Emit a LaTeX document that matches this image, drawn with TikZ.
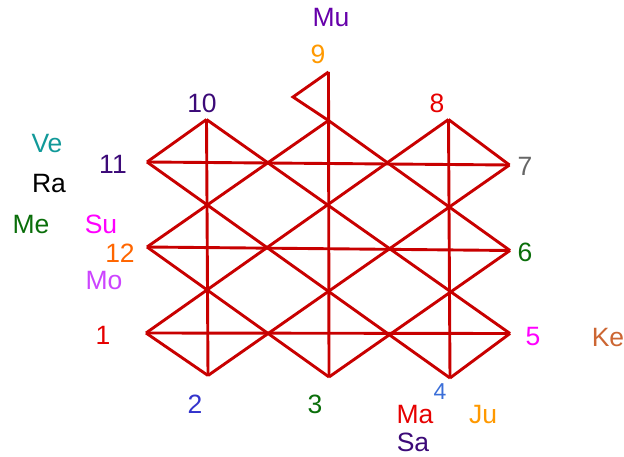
\documentclass[tikz,border=0pt]{standalone}
\usepackage{fontspec}
\setmainfont{Liberation Sans}
\usepackage{xcolor}
\usepackage{tikz}

\definecolor{linered}{RGB}{200,0,0}
\definecolor{violet}{RGB}{102,0,170}
\definecolor{amber}{RGB}{255,153,0}
\definecolor{indigo}{RGB}{60,10,120}
\definecolor{brightred}{RGB}{230,0,0}
\definecolor{tealish}{RGB}{17,153,153}
\definecolor{darkgreen}{RGB}{10,110,10}
\definecolor{pink}{RGB}{255,0,255}
\definecolor{deeporange}{RGB}{255,102,0}
\definecolor{lilac}{RGB}{204,68,255}
\definecolor{midgray}{RGB}{102,102,102}
\definecolor{rust}{RGB}{204,102,51}
\definecolor{royal}{RGB}{51,51,204}
\definecolor{skyblue}{RGB}{58,110,216}

\begin{document}
\begin{tikzpicture}[x=1pt, y=-1pt,
  chart/.style={draw=linered, line width=2.9pt, line join=miter},
  lab/.style={inner sep=0pt, font=\fontsize{26.5}{30}\selectfont}]
  \useasboundingbox (0,0) rectangle (624,457);

  %% house corners
  \coordinate (h10) at (206.5,119.5);
  \coordinate (h9) at (328.5,120.5);
  \coordinate (h8) at (448.5,119.5);
  \coordinate (h11) at (147,162);
  \coordinate (h7) at (509.5,165);
  \coordinate (h12) at (147,247);
  \coordinate (h6) at (510,250.5);
  \coordinate (h1) at (146,333);
  \coordinate (h5) at (510,333.5);
  \coordinate (h2) at (208,375.5);
  \coordinate (h3) at (329,377);
  \coordinate (h4) at (450,378);
  %% the flag above 9
  \coordinate (flagtop) at (328.5,72);
  \coordinate (flagtip) at (293,97);

  %% rows
  \draw[chart] (h11) -- (h7);
  \draw[chart] (h12) -- (h6);
  \draw[chart] (h1) -- (h5);
  %% columns
  \draw[chart] (h10) -- (h2);
  \draw[chart] (flagtop) -- (h3);
  \draw[chart] (h8) -- (h4);
  \draw[chart] (flagtop) -- (flagtip) -- (h9);
  %% falling diagonals
  \draw[chart] (h10) -- (h5);
  \draw[chart] (h9) -- (h6);
  \draw[chart] (h8) -- (h7);
  \draw[chart] (h11) -- (h4);
  \draw[chart] (h12) -- (h3);
  \draw[chart] (h1) -- (h2);
  %% rising diagonals
  \draw[chart] (h1) -- (h8);
  \draw[chart] (h12) -- (h9);
  \draw[chart] (h11) -- (h10);
  \draw[chart] (h2) -- (h7);
  \draw[chart] (h3) -- (h6);
  \draw[chart] (h4) -- (h5);

  %% house numbers
  \node[lab, amber] (n9) at (318,54) {9};
  \node[lab, indigo] (n10) at (202,103) {10};
  \node[lab, brightred] (n8) at (437,103) {8};
  \node[lab, indigo] (n11) at (113,164) {11};
  \node[lab, deeporange] (n12) at (120,253) {12};
  \node[lab, brightred] (n1) at (103,335) {1};
  \node[lab, midgray] (n7) at (525,166) {7};
  \node[lab, darkgreen] (n6) at (525,252) {6};
  \node[lab, pink] (n5) at (533,337) {5};
  \node[lab, royal] (n2) at (195,404) {2};
  \node[lab, darkgreen] (n3) at (315,404) {3};
  \node[lab, skyblue, font=\fontsize{23}{26}\selectfont] (n4) at (440,392) {4};

  %% planets
  \node[lab, violet] (mu) at (331,18) {Mu};
  \node[lab, tealish] (ve) at (47,144) {Ve};
  \node[lab, black] (ra) at (49,184) {Ra};
  \node[lab, darkgreen] (me) at (31,225) {Me};
  \node[lab, pink] (su) at (101,224) {Su};
  \node[lab, lilac] (mo) at (104,281) {Mo};
  \node[lab, rust] (ke) at (608,338) {Ke};
  \node[lab, brightred] (ma) at (415,415) {Ma};
  \node[lab, amber] (ju) at (483,415) {Ju};
  \node[lab, indigo] (sa) at (413,442.5) {Sa};
\end{tikzpicture}
\end{document}
